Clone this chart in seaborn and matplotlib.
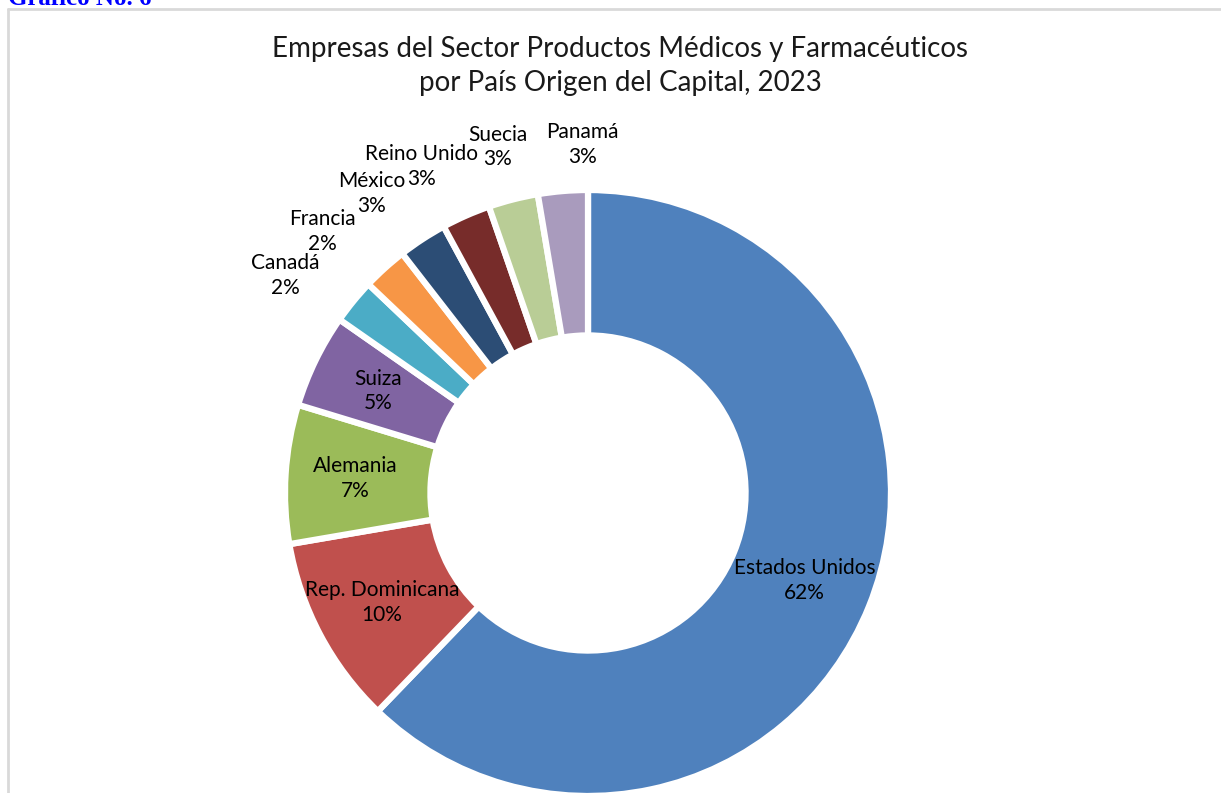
import matplotlib
matplotlib.use("Agg")
import matplotlib.pyplot as plt
from matplotlib.lines import Line2D
import numpy as np
import seaborn as sns

# datos (porcentaje de empresas por pais)
paises = ["Estados Unidos", "Rep. Dominicana", "Alemania", "Suiza", "Canadá",
          "Francia", "México", "Reino Unido", "Suecia", "Panamá"]
valores = [62.2, 10.1, 7.4, 5.0, 2.4, 2.4, 2.6, 2.6, 2.65, 2.65]
colores = ["#4F81BD", "#C0504D", "#9BBB59", "#8064A2", "#4BACC6",
           "#F79646", "#2C4D75", "#772C2A", "#B9CD96", "#A99BBD"]

titulo = "Empresas del Sector Productos Médicos y Farmacéuticos\npor País Origen del Capital, 2023"

sns.set_theme(style="white")
plt.rcParams['font.family'] = ['Lato', 'DejaVu Sans']

W, H = 1221, 793
cx, cy, R = 588, 493, 303   # centro y radio del anillo en pixeles

# ajuste de las etiquetas exteriores (giro en grados, distancia al centro)
ajuste_ext = {"Canadá": (3.5, 1.23), "Francia": (3.3, 1.23),
              "México": (2.7, 1.22), "Reino Unido": (3.2, 1.21),
              "Suecia": (0.3, 1.18), "Panamá": (-3.8, 1.15)}

fig = plt.figure(figsize=(W / 100, H / 100), dpi=100)
ax = fig.add_axes([0, 0, 1, 1])

pal = sns.color_palette(colores)
wedges, _ = ax.pie(valores, colors=pal, startangle=90, counterclock=False,
                   radius=1.0,
                   wedgeprops=dict(width=0.48, edgecolor='white', linewidth=4.5))

# la torta reescribe los limites: fijarlos despues
ax.set_xlim(-cx / R, (W - cx) / R)
ax.set_ylim((cy - H) / R, cy / R)
ax.set_aspect('equal')
ax.axis('off')

total = sum(valores)
for w, nombre, v in zip(wedges, paises, valores):
    pct = round(v / total * 100)
    ang = (w.theta1 + w.theta2) / 2
    if nombre in ajuste_ext:
        giro, r = ajuste_ext[nombre]
        ang += giro
    else:
        r = 0.77
    th = np.deg2rad(ang)
    ax.text(r * np.cos(th), r * np.sin(th), f"{nombre}\n{pct}%",
            ha='center', va='center', fontsize=15, color='black',
            linespacing=1.3)

fig.text(620 / W, 1 - 66 / H, titulo, ha='center', va='center',
         fontsize=20, color='#1a1a1a', linespacing=1.35)

# encabezado cortado arriba a la izquierda
fig.text(8 / W, 1 - 5 / H, "Gráfico No. 6", ha='left', va='baseline',
         fontsize=18, fontweight='bold', color='#0000FF',
         family=['Liberation Serif', 'DejaVu Serif'])

# marco gris del recuadro
fig.add_artist(Line2D([8 / W, 1], [1 - 9 / H, 1 - 9 / H], color='#D9D9D9',
                      linewidth=2, transform=fig.transFigure))
fig.add_artist(Line2D([8 / W, 8 / W], [1 - 9 / H, 0], color='#D9D9D9',
                      linewidth=2, transform=fig.transFigure))

fig.savefig("out.png", dpi=100)
